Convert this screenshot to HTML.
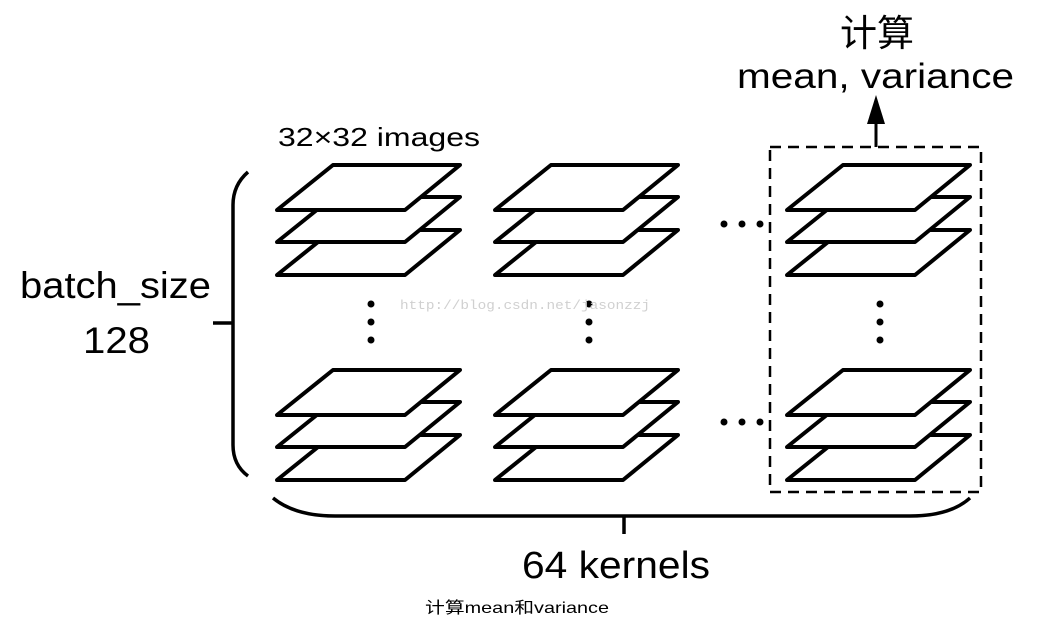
<!DOCTYPE html>
<html><head><meta charset="utf-8"><style>
html,body{margin:0;padding:0;background:#fff;}
svg{display:block;}
text{font-family:"Liberation Sans","Noto Sans CJK SC",sans-serif;fill:#000;}
</style></head><body>
<svg width="1041" height="632" viewBox="0 0 1041 632" xmlns="http://www.w3.org/2000/svg">
<defs>
<g id="layer"><polygon points="333,165 460,165 405,210 277,210" fill="#fff" stroke="#000" stroke-width="4" stroke-linejoin="round"/></g>
<g id="stack">
<use href="#layer" transform="translate(0,65)"/>
<use href="#layer" transform="translate(0,32)"/>
<use href="#layer"/>
</g>
<g id="vd"><circle cx="0" cy="0" r="3.5"/><circle cx="0" cy="18" r="3.5"/><circle cx="0" cy="36" r="3.5"/></g>
<g id="hd"><circle cx="0" cy="0" r="3.5"/><circle cx="18" cy="0" r="3.5"/><circle cx="36" cy="0" r="3.5"/></g>
</defs>

<use href="#stack"/>
<use href="#stack" transform="translate(218,0)"/>
<use href="#stack" transform="translate(510,0)"/>
<use href="#stack" transform="translate(0,205)"/>
<use href="#stack" transform="translate(218,205)"/>
<use href="#stack" transform="translate(510,205)"/>

<use href="#vd" transform="translate(371,304)"/>
<use href="#vd" transform="translate(589,304)"/>
<use href="#vd" transform="translate(880,304)"/>
<use href="#hd" transform="translate(724,224)"/>
<use href="#hd" transform="translate(724,422)"/>

<rect x="770" y="147" width="211" height="345" fill="none" stroke="#000" stroke-width="2.5" stroke-dasharray="11,7"/>
<line x1="876" y1="147" x2="876" y2="120" stroke="#000" stroke-width="3"/>
<polygon points="876,95 867,124 885,124" fill="#000"/>

<path d="M248,172 Q233,185 233,205 L233,445 Q233,465 248,476" fill="none" stroke="#000" stroke-width="3.5"/>
<line x1="213" y1="323" x2="233" y2="323" stroke="#000" stroke-width="3.5"/>
<path d="M273,498 Q295,516 335,516 L910,516 Q950,516 970,498" fill="none" stroke="#000" stroke-width="3.5"/>
<line x1="624" y1="516" x2="624" y2="534" stroke="#000" stroke-width="3.5"/>

<text x="877" y="46" font-size="37" text-anchor="middle">计算</text>
<text x="737" y="88" font-size="35" textLength="277" lengthAdjust="spacingAndGlyphs">mean, variance</text>
<text x="278" y="146" font-size="26" textLength="202" lengthAdjust="spacingAndGlyphs">32×32 images</text>
<text x="20" y="298" font-size="37" textLength="191" lengthAdjust="spacingAndGlyphs">batch_size</text>
<text x="83" y="353" font-size="37" textLength="67" lengthAdjust="spacingAndGlyphs">128</text>
<text x="522" y="578" font-size="38" textLength="188" lengthAdjust="spacingAndGlyphs">64 kernels</text>
<text x="425" y="613" font-size="16" textLength="184" lengthAdjust="spacingAndGlyphs">计算mean和variance</text>
<text x="400" y="309" font-size="13" textLength="250" lengthAdjust="spacingAndGlyphs" style="fill:#d0d0d0;font-family:'Liberation Mono',monospace">http://blog.csdn.net/jasonzzj</text>
</svg>
</body></html>
